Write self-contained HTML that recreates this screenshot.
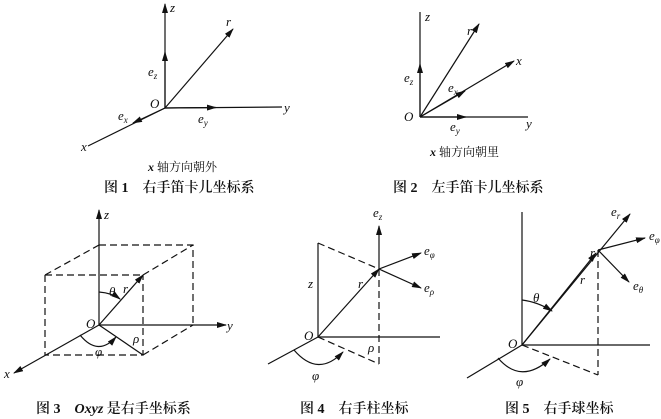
<!DOCTYPE html>
<html><head><meta charset="utf-8"><style>
html,body{margin:0;padding:0;background:#fff}
svg{display:block}
text{font-family:"Liberation Serif","Noto Serif CJK SC",serif;fill:#111}
.i{font-style:italic;font-size:13px}
.c{font-size:14px;font-weight:600}
</style></head><body>
<svg width="661" height="419" viewBox="0 0 661 419" xmlns="http://www.w3.org/2000/svg">
<defs><marker id="a" markerWidth="10" markerHeight="6" refX="9" refY="3" orient="auto" markerUnits="userSpaceOnUse"><path d="M0,0 L10,3 L0,6 Z" fill="#111"/></marker></defs>
<g stroke="#111" stroke-width="1.2" fill="none">
<!-- Fig1 -->
<line x1="165" y1="108" x2="165" y2="4" marker-end="url(#a)"/>
<line x1="165" y1="108" x2="165" y2="52" marker-end="url(#a)"/>
<line x1="165" y1="108" x2="233" y2="29" marker-end="url(#a)"/>
<line x1="165" y1="108" x2="282" y2="107"/>
<line x1="165" y1="108" x2="216" y2="107.5" marker-end="url(#a)"/>
<line x1="165" y1="108" x2="88" y2="146"/>
<line x1="165" y1="108" x2="133" y2="123" marker-end="url(#a)"/>
<!-- Fig2 -->
<line x1="420" y1="117" x2="420" y2="12"/>
<line x1="420" y1="117" x2="420" y2="64" marker-end="url(#a)"/>
<line x1="420" y1="117" x2="479" y2="24" marker-end="url(#a)"/>
<line x1="420" y1="117" x2="514" y2="61" marker-end="url(#a)"/>
<line x1="420" y1="117" x2="465" y2="91" marker-end="url(#a)"/>
<line x1="420" y1="117" x2="528" y2="117"/>
<line x1="420" y1="117" x2="466" y2="117" marker-end="url(#a)"/>
<!-- Fig3 -->
<line x1="99" y1="325" x2="99" y2="210" marker-end="url(#a)"/>
<line x1="99" y1="325" x2="226" y2="325" marker-end="url(#a)"/>
<line x1="99" y1="325" x2="14" y2="373" marker-end="url(#a)"/>
<line x1="99" y1="325" x2="143" y2="275" marker-end="url(#a)"/>
<line x1="99" y1="325" x2="143" y2="355"/>
<g stroke-dasharray="7,4">
<path d="M99,245 H193 V325 M45,275 H143 M45,275 L99,245 M143,275 L193,245 M45,275 V355 H143 V275 M143,355 L193,325"/>
</g>
<path d="M99,292 Q112,293 120,299" marker-end="url(#a)"/>
<path d="M80,335 Q98,357 116,337" marker-end="url(#a)"/>
<!-- Fig4 -->
<line x1="318" y1="337" x2="318" y2="243"/>
<line x1="318" y1="337" x2="440" y2="337"/>
<line x1="318" y1="337" x2="268" y2="364"/>
<line x1="318" y1="337" x2="379" y2="269" marker-end="url(#a)"/>
<line x1="379" y1="269" x2="379" y2="226" marker-end="url(#a)"/>
<line x1="379" y1="269" x2="421" y2="253" marker-end="url(#a)"/>
<line x1="379" y1="269" x2="421" y2="288" marker-end="url(#a)"/>
<g stroke-dasharray="7,4"><path d="M318,243 L379,269 M379,269 V364 M318,337 L379,364"/></g>
<path d="M294,350 Q318,378 343,352" marker-end="url(#a)"/>
<!-- Fig5 -->
<line x1="522" y1="345" x2="522" y2="212"/>
<line x1="522" y1="345" x2="650" y2="345"/>
<line x1="522" y1="345" x2="467" y2="378"/>
<line x1="522" y1="345" x2="630" y2="214" marker-end="url(#a)"/>
<line x1="522" y1="345" x2="596" y2="253" marker-end="url(#a)"/>
<line x1="598" y1="250" x2="645" y2="238" marker-end="url(#a)"/>
<line x1="598" y1="250" x2="629" y2="282" marker-end="url(#a)"/>
<g stroke-dasharray="7,4"><path d="M598,250 V375 M522,345 L598,375"/></g>
<path d="M522,300 Q538,302 552,311" marker-end="url(#a)"/>
<path d="M498,358 Q521,385 550,359" marker-end="url(#a)"/>
</g>
<!-- labels fig1 -->
<text class="i" x="170" y="12">z</text>
<text class="i" x="226" y="26">r</text>
<text class="i" x="148" y="76">e<tspan font-size="9" dy="3">z</tspan></text>
<text class="i" x="150" y="108">O</text>
<text class="i" x="284" y="112">y</text>
<text class="i" x="198" y="123">e<tspan font-size="9" dy="3">y</tspan></text>
<text class="i" x="118" y="120">e<tspan font-size="9" dy="3">x</tspan></text>
<text class="i" x="81" y="151">x</text>
<text x="148" y="171" font-size="12"><tspan font-style="italic" font-weight="bold">x</tspan> 轴方向朝外</text>
<text class="c" x="104" y="192">图 1　右手笛卡儿坐标系</text>
<!-- fig2 -->
<text class="i" x="425" y="21">z</text>
<text class="i" x="467" y="35">r</text>
<text class="i" x="516" y="65">x</text>
<text class="i" x="404" y="82">e<tspan font-size="9" dy="3">z</tspan></text>
<text class="i" x="448" y="92">e<tspan font-size="9" dy="3">x</tspan></text>
<text class="i" x="404" y="121">O</text>
<text class="i" x="450" y="131">e<tspan font-size="9" dy="3">y</tspan></text>
<text class="i" x="526" y="128">y</text>
<text x="430" y="156" font-size="12"><tspan font-style="italic" font-weight="bold">x</tspan> 轴方向朝里</text>
<text class="c" x="393" y="192">图 2　左手笛卡儿坐标系</text>
<!-- fig3 -->
<text class="i" x="104" y="219">z</text>
<text class="i" x="109" y="296">θ</text>
<text class="i" x="123" y="293">r</text>
<text class="i" x="86" y="328">O</text>
<text class="i" x="227" y="330">y</text>
<text class="i" x="133" y="343">ρ</text>
<text class="i" x="95" y="356">φ</text>
<text class="i" x="4" y="378">x</text>
<text class="c" x="36" y="413">图 3　<tspan font-style="italic">Oxyz</tspan> 是右手坐标系</text>
<!-- fig4 -->
<text class="i" x="373" y="217">e<tspan font-size="9" dy="3">z</tspan></text>
<text class="i" x="424" y="255">e<tspan font-size="9" dy="3">φ</tspan></text>
<text class="i" x="424" y="292">e<tspan font-size="9" dy="3">ρ</tspan></text>
<text class="i" x="358" y="288">r</text>
<text class="i" x="308" y="288">z</text>
<text class="i" x="304" y="340">O</text>
<text class="i" x="368" y="352">ρ</text>
<text class="i" x="312" y="380">φ</text>
<text class="c" x="300" y="413">图 4　右手柱坐标</text>
<!-- fig5 -->
<text class="i" x="611" y="216">e<tspan font-size="9" dy="3">r</tspan></text>
<text class="i" x="649" y="240">e<tspan font-size="9" dy="3">φ</tspan></text>
<text class="i" x="633" y="290">e<tspan font-size="9" dy="3">θ</tspan></text>
<text class="i" x="590" y="257">r</text>
<text class="i" x="580" y="284">r</text>
<text class="i" x="533" y="302">θ</text>
<text class="i" x="508" y="348">O</text>
<text class="i" x="516" y="386">φ</text>
<text class="c" x="505" y="413">图 5　右手球坐标</text>
</svg>
</body></html>
